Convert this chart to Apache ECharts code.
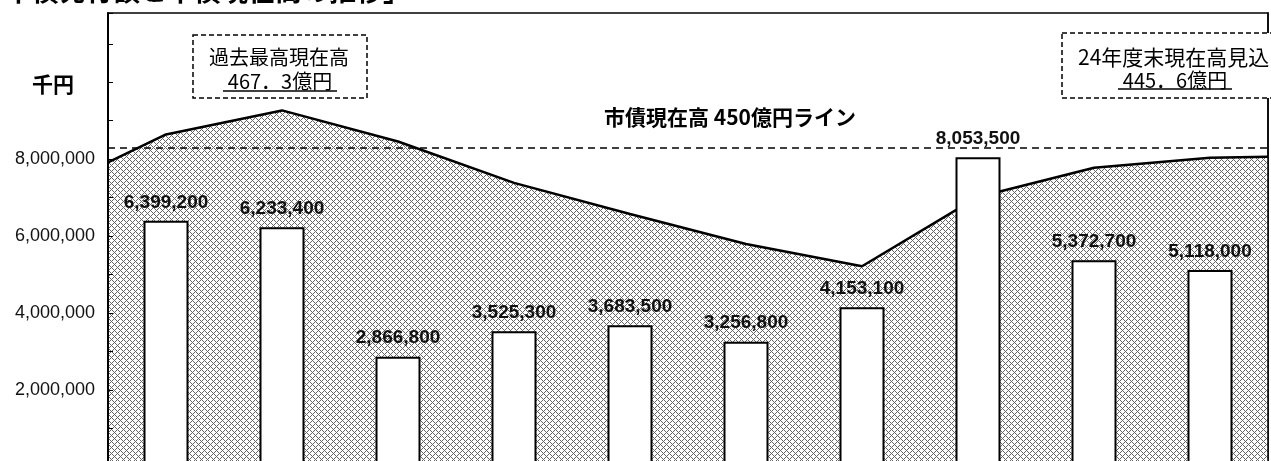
<!DOCTYPE html>
<html>
<head>
<meta charset="utf-8">
<title>市債発行額と市債現在高の推移</title>
<script src="https://cdn.jsdelivr.net/npm/echarts@6/dist/echarts.min.js"></script>
<style>
  html, body { margin: 0; padding: 0; background: #fff; overflow: hidden; }
  #main { width: 1271px; height: 480px; }
</style>
</head>
<body>
<div id="main"></div>
<script>
// 年度（下端は画面外）
const categories = ['15年度', '16年度', '17年度', '18年度', '19年度', '20年度', '21年度', '22年度', '23年度', '24年度'];
// 市債発行額（千円）
const issueValues = [6399200, 6233400, 2866800, 3525300, 3683500, 3256800, 4153100, 8053500, 5372700, 5118000];
// 市債現在高（億円）、位置は年度の番号
const balancePos = [-0.5, 0, 1, 2, 3, 4, 5, 6, 7, 8, 9, 9.5];
const balanceValues = [442.9, 456.0, 467.3, 452.7, 433.3, 418.7, 404.6, 394.2, 426.7, 440.4, 445.1, 445.6];
// 450億円ライン
const lineValue = 450;

// 網掛け（ドット）
function makeDots() {
  const c = document.createElement('canvas');
  c.width = 6;
  c.height = 6;
  const ctx = c.getContext('2d');
  ctx.fillStyle = '#fff';
  ctx.fillRect(0, 0, 6, 6);
  ctx.fillStyle = '#666';
  for (let i = 0; i < 6; i++) {
    ctx.fillRect(i, i, 1, 1);
    ctx.fillRect(i, (6 - i) % 6, 1, 1);
  }
  return c;
}

const jp = '"Noto Sans CJK JP", sans-serif';
const fmt = v => v.toLocaleString('en-US');

const chart = echarts.init(document.getElementById('main'));
chart.setOption({
  animation: false,
  textStyle: { fontFamily: '"Liberation Sans", Arial, "Noto Sans CJK JP", sans-serif' },
  grid: {
    left: 108, right: 3, top: 13, bottom: 13,
    show: true, borderColor: '#000', borderWidth: 1.5
  },
  xAxis: [
    {
      type: 'category',
      data: categories,
      axisLine: { show: false },
      axisTick: { show: false },
      axisLabel: { show: false }
    },
    { type: 'value', min: -0.5, max: 9.5, show: false }
  ],
  yAxis: [
    {
      type: 'value',
      min: 0,
      max: 11800000,
      interval: 2000000,
      z: 5,
      splitLine: { show: false },
      axisLine: { show: true, onZero: false, lineStyle: { color: '#000', width: 2 } },
      axisTick: { show: true, inside: true, length: 5, lineStyle: { color: '#000' } },
      minorTick: { show: true, splitNumber: 2, length: 5, lineStyle: { color: '#000' } },
      axisLabel: {
        margin: 13,
        fontSize: 18,
        color: '#111',
        formatter: v => (v > 0 && v <= 8000000 ? fmt(v) : '')
      }
    },
    {
      type: 'value',
      min: 300,
      max: 513,
      position: 'right',
      z: 5,
      splitLine: { show: false },
      axisLine: { show: true, onZero: false, lineStyle: { color: '#000', width: 1.5 } },
      axisTick: { show: false },
      axisLabel: { show: false }
    }
  ],
  series: [
    {
      name: '市債現在高',
      type: 'line',
      xAxisIndex: 1,
      yAxisIndex: 1,
      data: balancePos.map((x, i) => [x, balanceValues[i]]),
      symbol: 'none',
      lineStyle: { color: '#000', width: 2.5 },
      areaStyle: { color: { image: makeDots(), repeat: 'repeat' }, origin: 'start', opacity: 1 },
      z: 1,
      markLine: {
        silent: true,
        symbol: 'none',
        data: [{ yAxis: lineValue }],
        lineStyle: { color: '#000', type: [7, 5], width: 1.5 },
        label: { show: false }
      }
    },
    {
      name: '市債発行額',
      type: 'bar',
      data: issueValues,
      barWidth: 45,
      itemStyle: { color: '#fff', borderColor: '#000', borderWidth: 2 },
      label: {
        show: true,
        position: 'top',
        distance: 9,
        fontSize: 19,
        fontWeight: 'bold',
        color: '#111',
        formatter: p => fmt(p.value)
      },
      z: 3
    }
  ],
  graphic: [
    {
      type: 'text', x: 5, y: -23, z: 10,
      style: { text: '市債発行額と市債現在高の推移」', fontSize: 27, fontWeight: 'bold', fontFamily: jp, fill: '#000' }
    },
    {
      type: 'text', x: 53, y: 84, z: 10,
      style: { text: '千円', fontSize: 21, fontWeight: 'bold', fontFamily: jp, fill: '#000', align: 'center', verticalAlign: 'middle' }
    },
    {
      type: 'text', x: 730, y: 117, z: 10,
      style: { text: '市債現在高 450億円ライン', fontSize: 21, fontWeight: 'bold', fontFamily: jp, fill: '#000', align: 'center', verticalAlign: 'middle' }
    },
    // 過去最高
    {
      type: 'rect', z: 10,
      shape: { x: 193, y: 35, width: 174, height: 63 },
      style: { fill: '#fff', stroke: '#000', lineWidth: 1.5, lineDash: [5, 3] }
    },
    {
      type: 'text', x: 279, y: 57, z: 11,
      style: { text: '過去最高現在高', fontSize: 20, fontFamily: jp, fill: '#000', align: 'center', verticalAlign: 'middle' }
    },
    {
      type: 'text', x: 280, y: 81, z: 11,
      style: { text: '467．3億円', fontSize: 20, fontFamily: jp, fill: '#000', align: 'center', verticalAlign: 'middle' }
    },
    {
      type: 'line', z: 11,
      shape: { x1: 223, y1: 91, x2: 337, y2: 91 },
      style: { stroke: '#000', lineWidth: 1.5 }
    },
    // 24年度末見込
    {
      type: 'rect', z: 10,
      shape: { x: 1062, y: 33, width: 230, height: 65 },
      style: { fill: '#fff', stroke: '#000', lineWidth: 1.5, lineDash: [5, 3] }
    },
    {
      type: 'text', x: 1078, y: 57, z: 11,
      style: { text: '24年度末現在高見込', fontSize: 21, fontFamily: jp, fill: '#000', align: 'left', verticalAlign: 'middle' }
    },
    {
      type: 'text', x: 1175, y: 80, z: 11,
      style: { text: '445．6億円', fontSize: 20, fontFamily: jp, fill: '#000', align: 'center', verticalAlign: 'middle' }
    },
    {
      type: 'line', z: 11,
      shape: { x1: 1118, y1: 89, x2: 1232, y2: 89 },
      style: { stroke: '#000', lineWidth: 1.5 }
    }
  ]
});
</script>
</body>
</html>
